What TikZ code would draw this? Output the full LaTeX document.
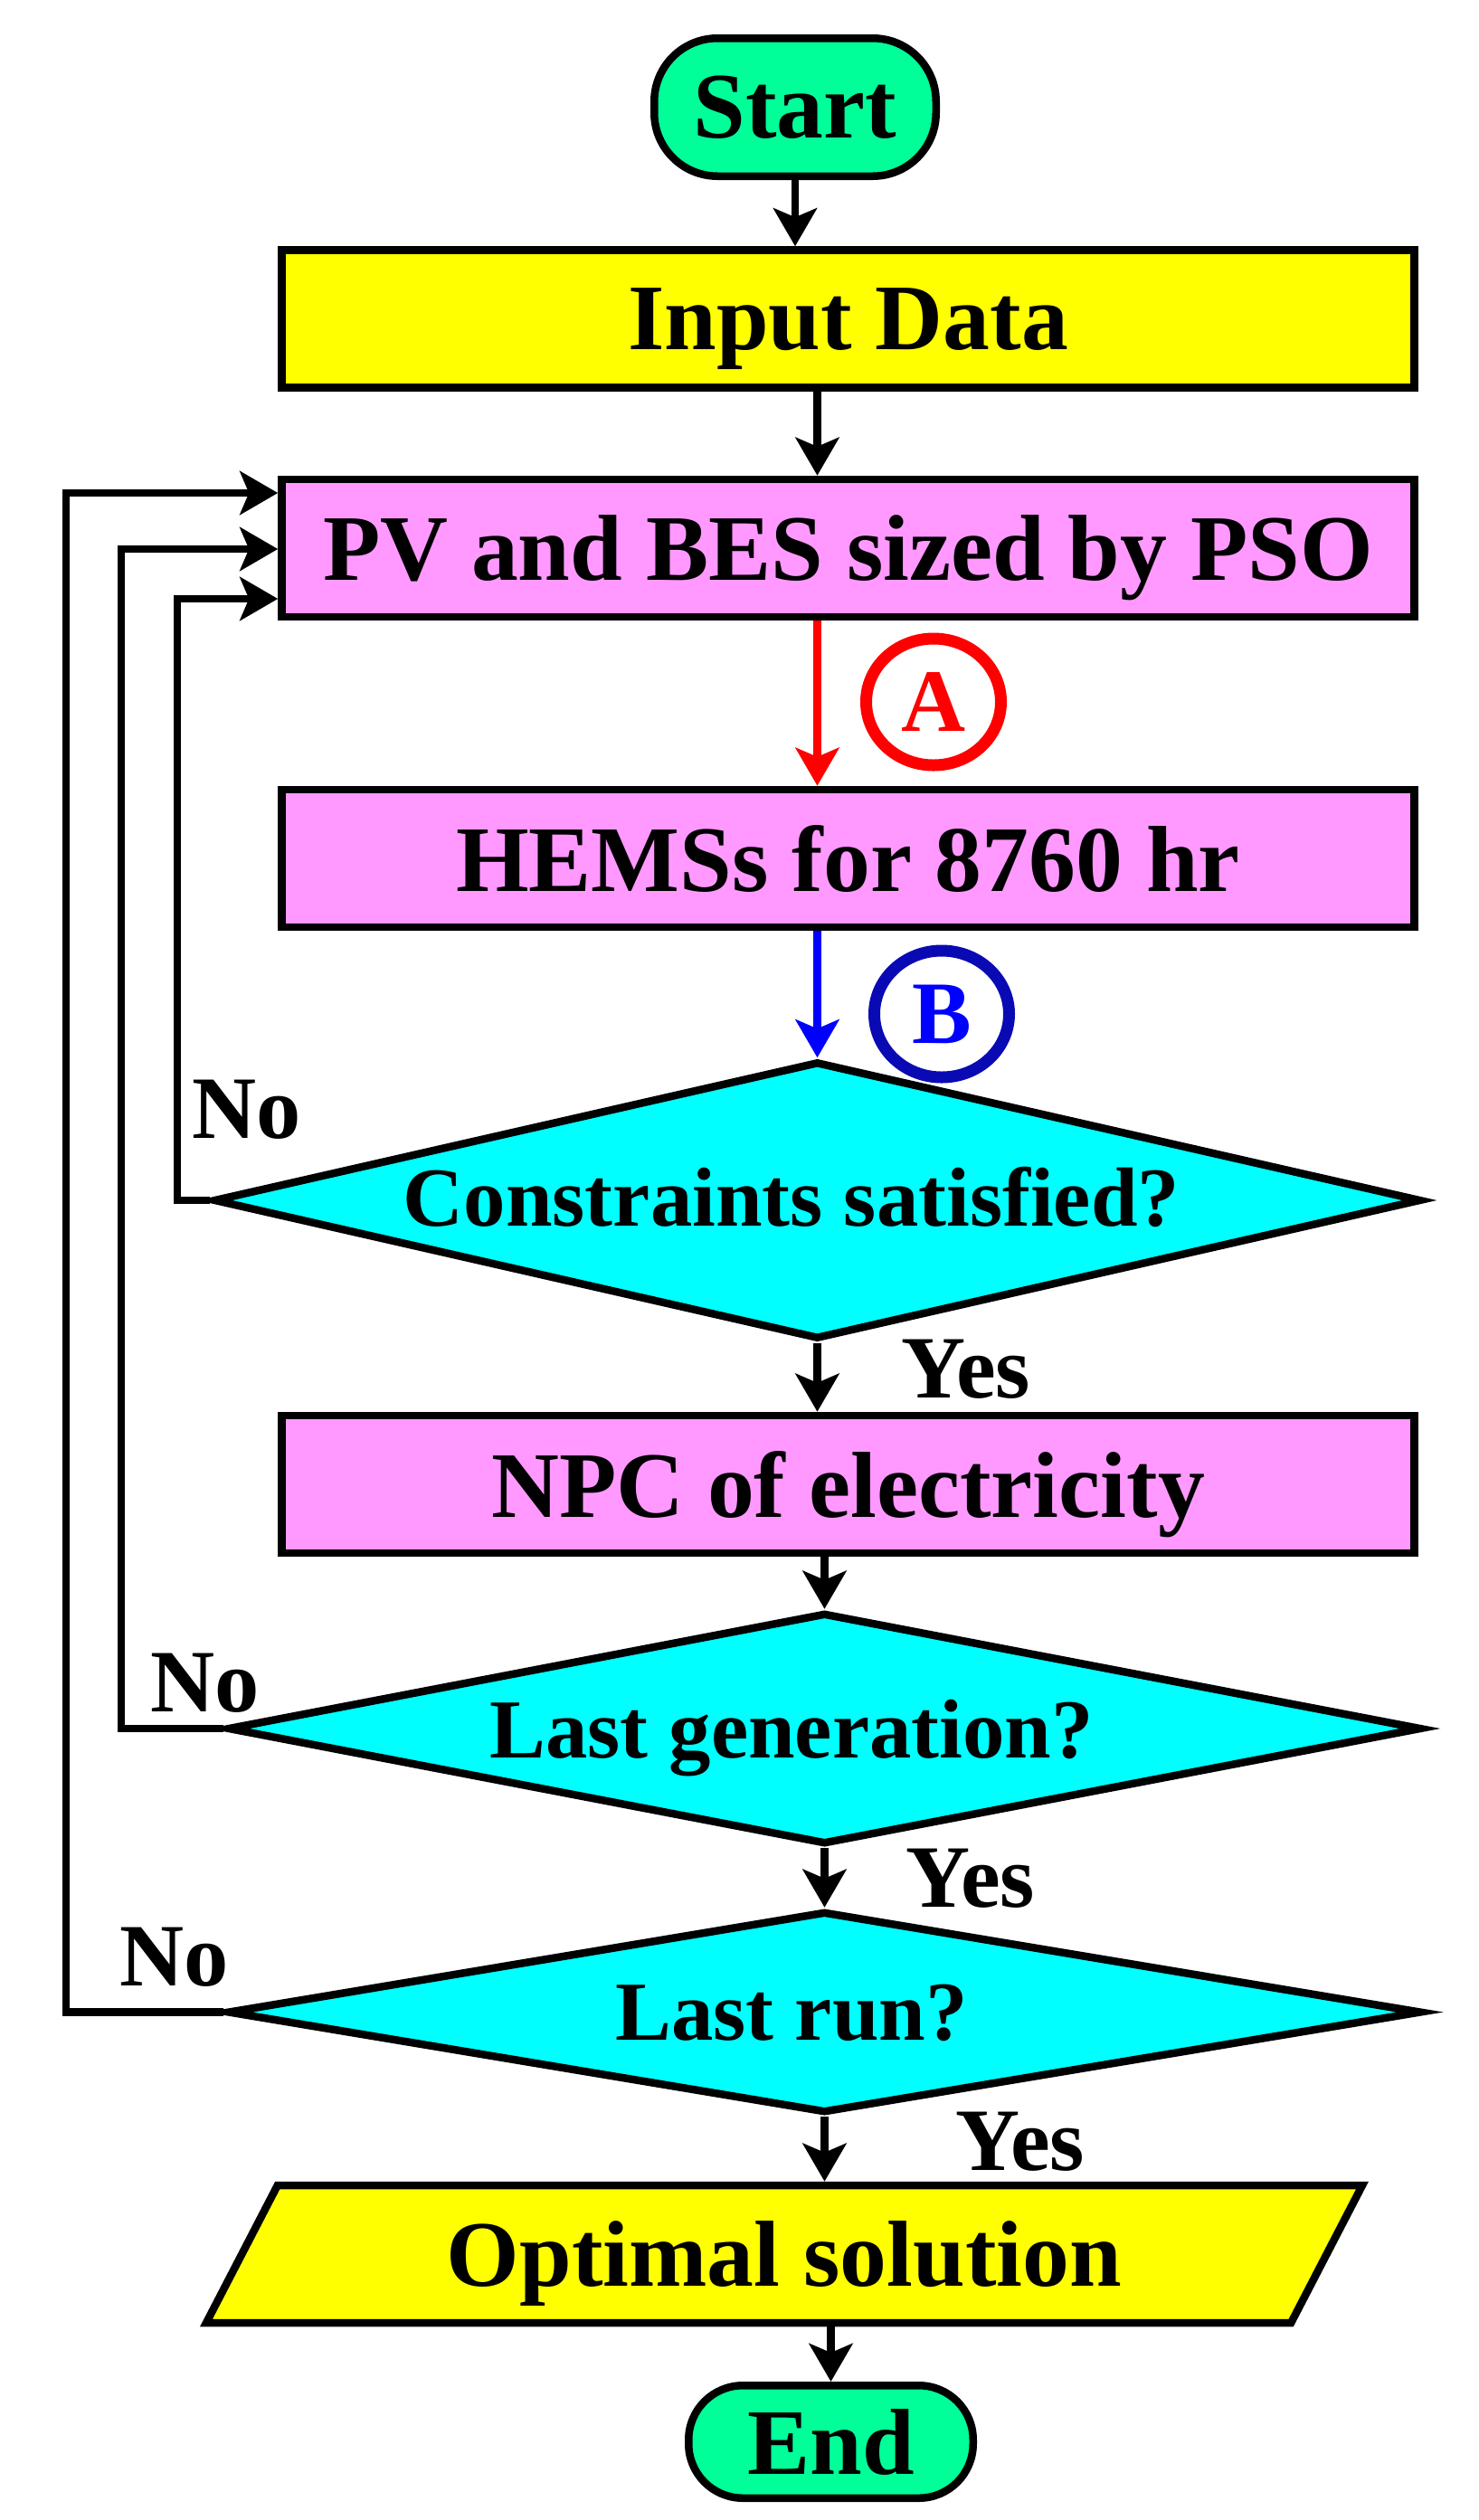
\documentclass[tikz,border=0pt]{standalone}
\usepackage{fontspec}
\setmainfont{Liberation Serif}
\usetikzlibrary{shapes.geometric,arrows.meta}

\definecolor{termgreen}{RGB}{0,255,153}
\definecolor{procpink}{RGB}{255,153,255}
\definecolor{decfill}{RGB}{0,255,255}
\definecolor{iofill}{RGB}{255,255,0}
\definecolor{markred}{RGB}{255,0,0}
\definecolor{markblue}{RGB}{10,10,180}
\definecolor{arrblue}{RGB}{0,0,255}

\begin{document}
\begin{tikzpicture}[x=1mm, y=-1mm,
  box/.style={draw, line width=0.85mm, inner sep=0pt, text depth=0pt, font=\fontsize{29.5}{32}\selectfont\bfseries},
  term/.style={box, fill=termgreen},
  proc/.style={box, fill=procpink, minimum width=125.2mm, minimum height=15.2mm},
  dec/.style={box, diamond, fill=decfill},
  dectext/.style={inner sep=0pt, text depth=0pt, font=\fontsize{26.4}{30}\selectfont\bfseries},
  tag/.style={inner sep=0pt, text depth=0pt, font=\fontsize{28}{30}\selectfont\bfseries},
  circmark/.style={ellipse, draw, line width=1.3mm, inner sep=0pt, minimum width=14.9mm, minimum height=14mm, font=\fontsize{28}{30}\selectfont\bfseries},
  arr/.style={line width=0.85mm, -{Stealth[length=4.2mm, width=4.8mm, inset=1mm]}},
]
\useasboundingbox (0,0) rectangle (163.4,278.6);

\node[term, rounded corners=7mm, minimum width=31.15mm, minimum height=15.25mm] (start) at (87.9,11.85) {Start};
\node[proc, fill=iofill] (input) at (93.75,35.25) {Input Data};
\node[proc] (pv) at (93.75,60.6) {PV and BES sized by PSO};
\node[proc] (hems) at (93.75,94.9) {HEMSs for 8760 hr};
\node[dec, minimum width=133.5mm, minimum height=30.7mm, label={[dectext, xshift=-2.85mm, yshift=0.4mm]center:Constraints satisfied?}] (dia1) at (90.35,132.7) {};
\node[proc] (npc) at (93.75,164.1) {NPC of electricity};
\node[dec, minimum width=132mm, minimum height=25.6mm, label={[dectext, xshift=-3.65mm]center:Last generation?}] (dia2) at (91.15,191.1) {};
\node[dec, minimum width=132mm, minimum height=22.3mm, label={[dectext, xshift=-3.65mm]center:Last run?}] (dia3) at (91.15,222.45) {};
\node[box, trapezium, trapezium left angle=62.6, trapezium right angle=117.4, trapezium stretches body, text height=7mm, inner ysep=4.1mm, minimum width=127.8mm, fill=iofill] (opt) at (86.7,249.2) {Optimal solution};
\node[term, rounded corners=6mm, minimum width=31.45mm, minimum height=12.45mm] (end) at (91.85,269.95) {End};

\node[circmark, markred, text=markred] (marka) at (103.2,77.6) {A};
\node[circmark, markblue, text=arrblue] (markb) at (104.1,112.1) {B};

\node[tag] (no1) at (27.3,122.6) {No};
\node[tag] (no2) at (22.7,186.0) {No};
\node[tag] (no3) at (19.3,216.3) {No};
\node[tag] (yes1) at (106.8,151.3) {Yes};
\node[tag] (yes2) at (107.3,207.6) {Yes};
\node[tag] (yes3) at (112.8,236.7) {Yes};

\draw[arr] (start) -- (start |- input.north);
\draw[arr] (input.south -| dia1.north) -- (pv.north -| dia1.north);
\draw[arr, markred] (pv.south -| dia1.north) -- (hems.north -| dia1.north);
\draw[arr, arrblue] (hems.south -| dia1.north) -- (dia1.north);
\draw[arr] (dia1.south) -- (dia1.south |- npc.north);
\draw[arr] (npc.south -| dia2.north) -- (dia2.north);
\draw[arr] (dia2.south) -- (dia3.north);
\draw[arr] (dia3.south) -- (dia3.south |- opt.north);
\draw[arr] (opt.south -| end.north) -- (end.north);

\draw[arr] (dia1.west) -| (19.6,66.2) -- (pv.west |- 0,66.2);
\draw[arr] (dia2.west) -| (13.4,60.7) -- (pv.west |- 0,60.7);
\draw[arr] (dia3.west) -| (7.3,54.5) -- (pv.west |- 0,54.5);
\end{tikzpicture}
\end{document}
